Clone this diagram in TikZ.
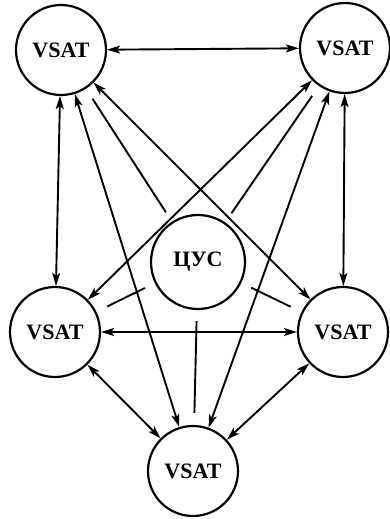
\documentclass[tikz,border=0pt]{standalone}
\usepackage{fontspec}
\setmainfont{Liberation Serif}
\usetikzlibrary{arrows.meta}
\begin{document}
\begin{tikzpicture}[x=1pt,y=-1pt,
    stn/.style={circle, draw, line width=2.2pt, minimum size=90pt, inner sep=0pt, font=\fontsize{22}{22}\selectfont\bfseries},
    link/.style={<->, line width=1.9pt},
    cus link/.style={line width=1.9pt, shorten <=11pt, shorten >=12pt},
    >={Stealth[length=13pt,width=8pt,inset=3pt]}]
    \useasboundingbox (0,0) rectangle (390,519);
    \node[stn] (tl) at (61,50) {VSAT};
    \node[stn] (tr) at (345,48) {VSAT};
    \node[stn] (lm) at (55,332) {VSAT};
    \node[stn] (rm) at (343,332) {VSAT};
    \node[stn] (bt) at (193,471) {VSAT};
    \node[stn, minimum size=94pt] (cus) at (198,262) {ЦУС};
    \draw[link] (tl) -- (tr);
    \draw[link] (tl) -- (lm);
    \draw[link] (tl) -- (rm);
    \draw[link] (tl) -- (bt);
    \draw[link] (tr) -- (lm);
    \draw[link] (tr) -- (rm);
    \draw[link] (tr) -- (bt);
    \draw[link] (lm) -- (rm);
    \draw[link] (lm) -- (bt);
    \draw[link] (rm) -- (bt);
    \foreach \v in {tl,tr,lm,rm,bt}
        \draw[cus link] (cus) -- (\v);
\end{tikzpicture}
\end{document}
